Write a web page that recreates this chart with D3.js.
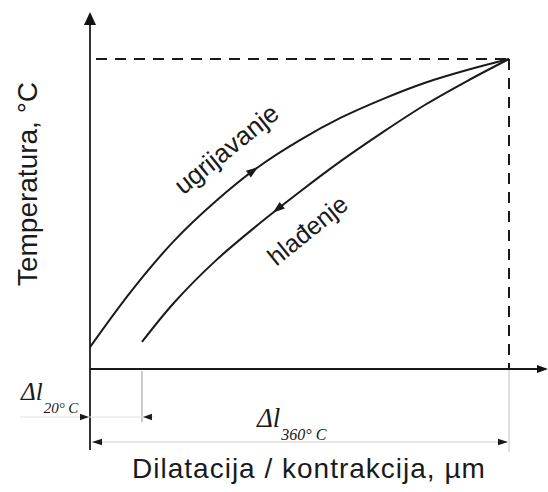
<!DOCTYPE html>
<html>
<head>
<meta charset="utf-8">
<script src="https://cdn.jsdelivr.net/npm/d3@7/dist/d3.min.js"></script>
<style>
  html, body { margin: 0; padding: 0; background: #fff; }
  svg { display: block; }
</style>
</head>
<body>
<svg id="chart" width="548" height="492"></svg>
<script>
// Heating branch: dilatation (relative units) vs temperature (°C)
const heatX = [0, 10, 20, 30, 40, 50, 60, 70, 80, 90, 100];
const heatT = [20, 87, 145, 192, 232, 264, 291, 313, 332, 347, 360];
// Cooling branch (ends with a residual dilatation)
const coolX = [12.4, 20, 30, 40, 50, 60, 70, 80, 90, 100];
const coolT = [26, 72, 122, 164, 203, 240, 274, 306, 334, 360];

// Reference values marked on the diagram
const tStart = 20;
const tMax = 360;
const dl20 = 12.4;
const dl360 = 100;

// Text
const xTitle = "Dilatacija / kontrakcija, µm";
const yTitle = "Temperatura, °C";
const heatLabel = "ugrijavanje";
const coolLabel = "hlađenje";

const svg = d3.select("#chart");
const x = d3.scaleLinear().domain([0, 100]).range([90, 509]);
const y = d3.scaleLinear().domain([0, 360]).range([364, 59]);
const axisY = 369;      // pixel row of the horizontal axis
const axisX = x(0);     // pixel column of the vertical axis

const dark = "#1a1a1a";

// Extension lines under the axis
svg.append("line").attr("x1", axisX).attr("x2", axisX).attr("y1", axisY).attr("y2", 450)
  .attr("stroke", "#333").attr("stroke-width", 2);
svg.append("line").attr("x1", x(dl20)).attr("x2", x(dl20)).attr("y1", axisY + 2).attr("y2", 422)
  .attr("stroke", "#aaa").attr("stroke-width", 1.2);
svg.append("line").attr("x1", x(dl360)).attr("x2", x(dl360)).attr("y1", axisY).attr("y2", 452)
  .attr("stroke", "#ccc").attr("stroke-width", 1.2);

// Δl at 20 °C: arrows pointing in from outside
svg.append("line").attr("x1", 20).attr("x2", x(dl20) + 12).attr("y1", 417).attr("y2", 417)
  .attr("stroke", "#e2e2e2").attr("stroke-width", 1.2);
// Δl at 360 °C
svg.append("line").attr("x1", axisX + 2).attr("x2", x(dl360) - 2).attr("y1", 442).attr("y2", 442)
  .attr("stroke", "#dedede").attr("stroke-width", 1.4);

function arrowHead(px, py, angle, len, half, fill) {
  // tip at (px,py), pointing in direction `angle` (radians)
  const c = Math.cos(angle), s = Math.sin(angle);
  const bx = px - c * len, by = py - s * len;
  const pts = [[px, py], [bx - s * half, by + c * half], [bx + s * half, by - c * half]];
  svg.append("path").attr("d", "M" + pts.map(p => p.join(",")).join("L") + "Z")
    .attr("fill", fill || dark);
}
arrowHead(axisX - 1, 417, 0, 9, 3.2);
arrowHead(x(dl20) + 1, 417, Math.PI, 9, 3.2);
arrowHead(axisX + 2, 442, Math.PI, 10, 3.2);
arrowHead(x(dl360) - 1, 442, 0, 10, 3.2);

// Dashed guides to the maximum temperature
svg.append("line").attr("x1", axisX + 6).attr("x2", x(dl360)).attr("y1", y(tMax)).attr("y2", y(tMax))
  .attr("stroke", dark).attr("stroke-width", 2).attr("stroke-dasharray", "11,8");
svg.append("line").attr("x1", x(dl360)).attr("x2", x(dl360)).attr("y1", y(tMax)).attr("y2", axisY)
  .attr("stroke", dark).attr("stroke-width", 2).attr("stroke-dasharray", "11,8");

// Axes
svg.append("line").attr("x1", axisX).attr("x2", axisX).attr("y1", axisY).attr("y2", 22)
  .attr("stroke", "#333").attr("stroke-width", 2);
arrowHead(axisX, 12, -Math.PI / 2, 13, 6, "#111");
svg.append("line").attr("x1", axisX).attr("x2", 538).attr("y1", axisY).attr("y2", axisY)
  .attr("stroke", dark).attr("stroke-width", 2);
arrowHead(548, axisY, 0, 11, 4, "#111");

// Curves
const line = d3.line().x(d => x(d[0])).y(d => y(d[1])).curve(d3.curveCatmullRom.alpha(0.5));
const heat = heatX.map((v, i) => [v, heatT[i]]);
const cool = coolX.map((v, i) => [v, coolT[i]]);
const heatPath = svg.append("path").attr("d", line(heat)).attr("fill", "none")
  .attr("stroke", dark).attr("stroke-width", 2);
const coolPath = svg.append("path").attr("d", line(cool)).attr("fill", "none")
  .attr("stroke", dark).attr("stroke-width", 2);

// Direction arrows along each branch
function arrowOnPath(pathSel, targetX, reverse) {
  const node = pathSel.node();
  const total = node.getTotalLength();
  let best = 0, bestD = Infinity;
  for (let l = 0; l <= total; l += 0.5) {
    const p = node.getPointAtLength(l);
    const d = Math.abs(p.x - targetX);
    if (d < bestD) { bestD = d; best = l; }
  }
  const p = node.getPointAtLength(best);
  const a = node.getPointAtLength(Math.max(0, best - 2));
  const b = node.getPointAtLength(Math.min(total, best + 2));
  let ang = Math.atan2(b.y - a.y, b.x - a.x);
  if (reverse) ang += Math.PI;
  arrowHead(p.x, p.y, ang, 12, 4.2);
}
arrowOnPath(heatPath, 258, false);
arrowOnPath(coolPath, 273, true);

// Curve labels
svg.append("text").attr("transform", "translate(232,156) rotate(-39)")
  .attr("text-anchor", "middle").attr("font-family", "Liberation Sans, Arial, sans-serif")
  .attr("font-size", 26).attr("fill", dark).text(heatLabel);
svg.append("text").attr("transform", "translate(313,237) rotate(-39)")
  .attr("text-anchor", "middle").attr("font-family", "Liberation Sans, Arial, sans-serif")
  .attr("font-size", 25).attr("fill", dark).text(coolLabel);

// Δl labels
function deltaLabel(px, py, size, sub, subSize) {
  const t = svg.append("text").attr("x", px).attr("y", py)
    .attr("font-family", "Liberation Serif, Times New Roman, serif").attr("font-style", "italic")
    .attr("fill", dark);
  t.append("tspan").attr("font-size", size).text("Δl");
  t.append("tspan").attr("font-size", subSize).attr("dy", 13).attr("dx", 1).text(sub);
}
deltaLabel(21, 400, 25, "20° C", 15);
deltaLabel(257, 427, 27, "360° C", 16);

// Axis titles
svg.append("text").attr("x", 309).attr("y", 478).attr("text-anchor", "middle")
  .attr("font-family", "Liberation Sans, Arial, sans-serif").attr("font-size", 28)
  .attr("letter-spacing", 1).attr("fill", dark).text(xTitle);
svg.append("text").attr("transform", "translate(37,184) rotate(-90)").attr("text-anchor", "middle")
  .attr("font-family", "Liberation Sans, Arial, sans-serif").attr("font-size", 28)
  .attr("fill", dark).text(yTitle);
</script>
</body>
</html>
